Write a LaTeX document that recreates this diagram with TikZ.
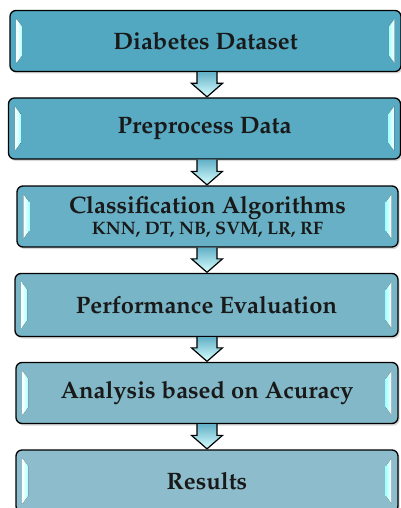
\documentclass[tikz,border=0pt]{standalone}
\usepackage[T1]{fontenc}
\usepackage{mathpazo}
\usepackage{tikz}
\usetikzlibrary{calc}
\usetikzlibrary{shadows}
\definecolor{boxA}{RGB}{82,168,193}
\definecolor{boxB}{RGB}{88,171,195}
\definecolor{boxC}{RGB}{104,176,197}
\definecolor{boxD}{RGB}{120,181,199}
\definecolor{boxE}{RGB}{130,184,200}
\definecolor{boxF}{RGB}{141,189,204}
\tikzset{flowbox/.style={draw=black, line width=1.3pt, rounded corners=6pt,
    text=black!90, font=\bfseries\fontsize{23.8}{25}\selectfont, align=center,
    inner sep=0pt, minimum height=61pt,
    drop shadow={opacity=0.3, shadow xshift=1.5pt, shadow yshift=-2pt}},
  flowarrow/.style={draw=black, line width=1.2pt, line join=miter,
    top color=boxA!90!white, bottom color=cyan!15!white},
  bevelmark/.style={left color=white, right color=cyan!35!white}}
\newcommand{\arrowx}{207pt}
\newcommand{\stepdown}[2]{%
  \path[flowarrow] let \p1=(#1.south), \p2=(#2.north) in
    (\arrowx-10pt,\y1) -- (\arrowx-10pt,\y2+14pt) -- (\arrowx-15.5pt,\y2+14pt)
    -- (\arrowx,\y2+0.5pt) -- (\arrowx+15.5pt,\y2+14pt) -- (\arrowx+10pt,\y2+14pt)
    -- (\arrowx+10pt,\y1);}
\newcommand{\bevels}[1]{%
  \fill[bevelmark] ($(#1.north west)+(7,9)$) -- ($(#1.south west)+(7,-9)$)
    -- ($(#1.south west)+(13,-17)$) -- ($(#1.north west)+(13,17)$) -- cycle;
  \fill[bevelmark, left color=cyan!35!white, right color=white]
    ($(#1.north east)+(-7,9)$) -- ($(#1.south east)+(-7,-9)$)
    -- ($(#1.south east)+(-13,-17)$) -- ($(#1.north east)+(-13,17)$) -- cycle;}
\begin{document}
\begin{tikzpicture}[x=1pt, y=-1pt]
  \useasboundingbox (0,0) rectangle (400,508);

  \node[flowbox, fill=boxA, minimum width=391pt] (dataset) at (205.5,41) {Diabetes Dataset};
  \node[flowbox, fill=boxB, minimum width=392pt] (preprocess) at (204.5,128.5) {Preprocess Data};
  \node[flowbox, fill=boxC, minimum width=381pt] (classify) at (207.5,216.5)
    {Classification Algorithms\\[-4pt]{\fontsize{18}{19}\selectfont KNN, DT, NB, SVM, LR, RF}};
  \node[flowbox, fill=boxD, minimum width=383pt, minimum height=63pt] (evaluate) at (206.5,305) {Performance Evaluation};
  \node[flowbox, fill=boxE, minimum width=382pt] (analysis) at (207,393) {Analysis based on Acuracy};
  \node[flowbox, fill=boxF, minimum width=382pt, minimum height=62pt] (results) at (207,481) {Results};

  \foreach \n in {dataset,preprocess,classify,evaluate,analysis,results}
    {\bevels{\n}}

  \stepdown{dataset}{preprocess}
  \stepdown{preprocess}{classify}
  \stepdown{classify}{evaluate}
  \stepdown{evaluate}{analysis}
  \stepdown{analysis}{results}
\end{tikzpicture}
\end{document}
